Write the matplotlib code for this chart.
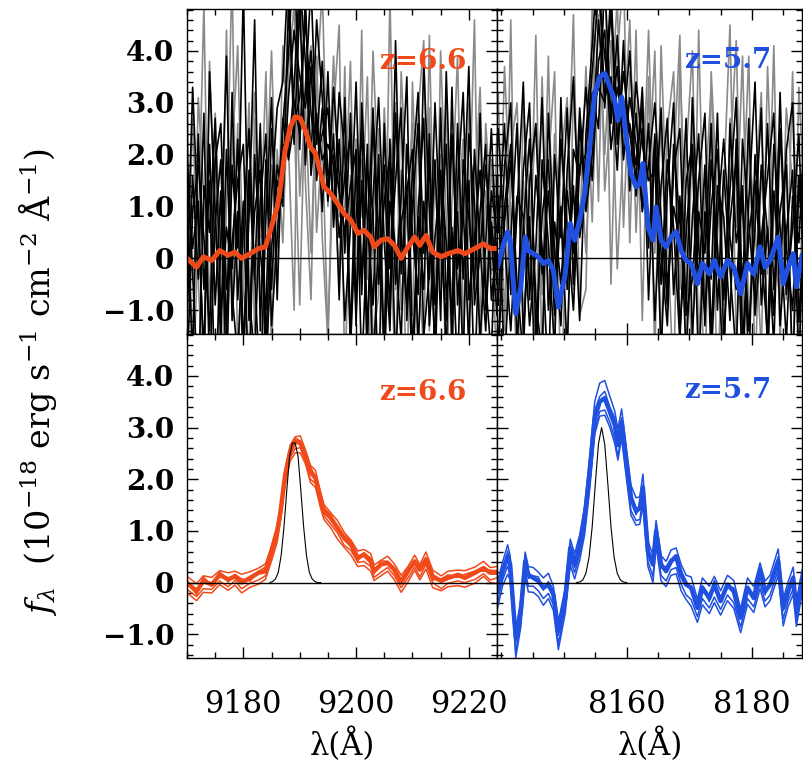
import numpy as np
import matplotlib
matplotlib.use("Agg")
import matplotlib.pyplot as plt
from matplotlib.ticker import MultipleLocator

# ---------------- data ----------------
# stacked z=6.6 spectrum (wavelength in A, flux in 1e-18 erg/s/cm2/A)
z66_wave = [9170.0, 9171.7, 9172.9, 9174.4, 9175.8, 9177.3, 9178.5, 9179.7, 9181.2, 9182.7,
            9183.9, 9184.8, 9186.0, 9186.6, 9187.4, 9188.3, 9189.2, 9190.1, 9191.0, 9191.9,
            9192.8, 9193.7, 9194.3, 9195.5, 9196.7, 9197.9, 9199.1, 9200.3, 9201.4, 9202.6,
            9203.2, 9204.4, 9205.6, 9206.8, 9208.0, 9209.2, 9210.4, 9211.3, 9212.4, 9213.6,
            9215.1, 9216.3, 9218.1, 9219.3, 9221.1, 9222.6, 9223.8, 9225.0]
z66_flux = [0.00, -0.17, 0.03, -0.04, 0.15, 0.06, 0.12, 0.00, 0.09, 0.19,
            0.22, 0.54, 0.99, 1.38, 2.08, 2.53, 2.73, 2.70, 2.47, 2.15,
            2.02, 1.64, 1.38, 1.25, 1.06, 0.86, 0.73, 0.48, 0.54, 0.41,
            0.22, 0.35, 0.38, 0.25, 0.00, 0.22, 0.41, 0.25, 0.44, 0.12,
            0.03, 0.09, 0.15, 0.09, 0.19, 0.28, 0.19, 0.19]
# stacked z=5.7 spectrum
z57_wave = [8139.4, 8140.2, 8141.0, 8141.4, 8142.0, 8142.3, 8143.1, 8143.8, 8144.3, 8145.1,
            8145.9, 8146.7, 8147.5, 8148.3, 8149.1, 8150.2, 8151.0, 8151.7, 8152.5, 8153.3,
            8154.1, 8154.9, 8155.7, 8156.5, 8157.3, 8158.1, 8158.6, 8159.2, 8160.0, 8160.7,
            8161.5, 8162.1, 8162.6, 8163.4, 8164.2, 8164.7, 8165.5, 8166.3, 8167.1, 8167.9,
            8168.7, 8169.5, 8170.3, 8171.3, 8172.1, 8173.2, 8174.0, 8175.0, 8176.1, 8177.1,
            8178.2, 8179.3, 8180.3, 8181.3, 8182.1, 8182.9, 8184.2, 8185.0, 8185.8, 8186.6,
            8187.1, 8188.0]
z57_flux = [-0.17, 0.22, 0.51, 0.35, -0.62, -1.07, -0.55, 0.41, 0.15, 0.09,
            0.03, -0.10, -0.04, -0.23, -0.94, -0.30, 0.67, 0.35, 0.73, 1.25,
            2.15, 3.18, 3.50, 3.57, 3.31, 3.05, 2.66, 3.11, 2.28, 1.64,
            1.38, 1.44, 1.83, 0.60, 0.35, 0.99, 0.35, 0.22, 0.41, 0.51,
            0.15, -0.04, -0.10, -0.49, -0.10, -0.30, -0.04, -0.36, -0.04, -0.17,
            -0.68, -0.10, -0.30, 0.22, -0.17, -0.04, 0.41, -0.49, -0.17, 0.09,
            -0.55, 0.06]

# bootstrap stacks (offsets from the stack), z=6.6
z66_boot1 = [0.12, 0.15, 0.10, 0.14, 0.08, 0.13, 0.10, 0.16, 0.12, 0.09,
             0.14, 0.10, 0.12, 0.08, 0.10, 0.13, 0.09, 0.14, 0.10, 0.12,
             0.15, 0.09, 0.13, 0.10, 0.14, 0.11, 0.09, 0.13, 0.10, 0.15,
             0.12, 0.08, 0.13, 0.11, 0.14, 0.09, 0.12, 0.10, 0.15, 0.12,
             0.10, 0.13, 0.09, 0.14, 0.11, 0.13, 0.10, 0.12]
z66_boot2 = [-0.13, -0.10, -0.15, -0.09, -0.12, -0.14, -0.08, -0.12, -0.10, -0.14,
             -0.09, -0.12, -0.10, -0.13, -0.08, -0.11, -0.14, -0.09, -0.12, -0.15,
             -0.10, -0.13, -0.09, -0.12, -0.10, -0.14, -0.11, -0.09, -0.13, -0.10,
             -0.12, -0.15, -0.09, -0.12, -0.10, -0.13, -0.11, -0.14, -0.09, -0.12,
             -0.15, -0.10, -0.12, -0.09, -0.13, -0.11, -0.14, -0.10]
z66_boot3 = [0.05, -0.06, 0.08, -0.03, 0.06, -0.05, 0.04, 0.07, -0.06, 0.03,
             0.08, -0.04, 0.06, 0.10, 0.05, -0.05, 0.07, 0.04, -0.06, 0.08,
             0.03, -0.05, 0.06, 0.07, -0.04, 0.05, 0.08, -0.06, 0.04, 0.06,
             -0.05, 0.07, 0.03, -0.06, 0.08, 0.04, -0.05, 0.06, 0.05, -0.07,
             0.04, 0.06, -0.05, 0.07, 0.03, -0.06, 0.05, 0.04]
z66_boot4 = [-0.20, -0.18, -0.22, -0.16, -0.19, -0.21, -0.17, -0.20, -0.18, -0.22,
             -0.16, -0.19, -0.21, -0.17, -0.20, -0.18, -0.22, -0.19, -0.17, -0.21,
             -0.18, -0.20, -0.16, -0.19, -0.22, -0.18, -0.20, -0.17, -0.21, -0.19,
             -0.18, -0.22, -0.16, -0.20, -0.19, -0.21, -0.17, -0.20, -0.18, -0.22,
             -0.19, -0.17, -0.21, -0.18, -0.20, -0.16, -0.19, -0.21]
# bootstrap stacks (offsets), z=5.7
z57_boot1 = [0.20, 0.18, 0.22, 0.17, 0.19, 0.15, 0.21, 0.18, 0.16, 0.20,
             0.17, 0.19, 0.22, 0.16, 0.18, 0.20, 0.17, 0.21, 0.19, 0.24,
             0.28, 0.32, 0.36, 0.34, 0.30, 0.27, 0.31, 0.25, 0.29, 0.24,
             0.26, 0.22, 0.27, 0.20, 0.18, 0.21, 0.17, 0.19, 0.22, 0.16,
             0.20, 0.18, 0.21, 0.17, 0.19, 0.23, 0.16, 0.20, 0.18, 0.21,
             0.17, 0.19, 0.22, 0.16, 0.20, 0.18, 0.24, 0.17, 0.19, 0.21,
             0.16, 0.18]
z57_boot2 = [-0.21, -0.17, -0.19, -0.23, -0.16, -0.28, -0.20, -0.18, -0.22, -0.16,
             -0.19, -0.21, -0.17, -0.20, -0.25, -0.18, -0.22, -0.16, -0.19, -0.21,
             -0.24, -0.22, -0.19, -0.23, -0.20, -0.26, -0.22, -0.24, -0.21, -0.25,
             -0.18, -0.22, -0.20, -0.19, -0.23, -0.17, -0.21, -0.19, -0.16, -0.22,
             -0.18, -0.20, -0.23, -0.17, -0.21, -0.19, -0.24, -0.16, -0.20, -0.22,
             -0.18, -0.21, -0.17, -0.23, -0.19, -0.20, -0.16, -0.22, -0.18, -0.21,
             -0.19, -0.17]
z57_boot3 = [0.08, -0.06, 0.10, -0.04, 0.07, -0.09, 0.05, 0.09, -0.07, 0.04,
             0.08, -0.05, 0.06, 0.09, -0.08, 0.05, 0.07, -0.06, 0.08, 0.10,
             0.12, 0.15, 0.10, 0.13, 0.09, 0.14, 0.11, 0.08, 0.12, 0.10,
             -0.07, 0.09, 0.06, -0.05, 0.08, 0.06, -0.07, 0.09, 0.05, -0.06,
             0.08, 0.07, -0.05, 0.09, 0.04, -0.07, 0.08, 0.06, -0.05, 0.07,
             0.09, -0.06, 0.05, 0.08, -0.07, 0.06, 0.09, -0.05, 0.07, 0.04,
             -0.08, 0.06]
z57_boot4 = [-0.32, -0.28, -0.35, -0.30, -0.27, -0.38, -0.31, -0.29, -0.33, -0.28,
             -0.30, -0.34, -0.27, -0.31, -0.36, -0.29, -0.33, -0.28, -0.30, -0.32,
             -0.35, -0.31, -0.28, -0.33, -0.30, -0.36, -0.29, -0.32, -0.30, -0.34,
             -0.27, -0.31, -0.33, -0.29, -0.35, -0.28, -0.32, -0.30, -0.27, -0.34,
             -0.31, -0.29, -0.36, -0.28, -0.33, -0.30, -0.35, -0.27, -0.31, -0.33,
             -0.29, -0.32, -0.28, -0.34, -0.30, -0.31, -0.27, -0.35, -0.29, -0.32,
             -0.30, -0.28]

# instrumental profile (thin black curves)
z66_prof_wave = [9184.7, 9185.2, 9185.7, 9186.2, 9186.7, 9187.2, 9187.7, 9188.2, 9188.7, 9189.2,
                 9189.7, 9190.2, 9190.7, 9191.2, 9191.7, 9192.2, 9192.7, 9193.2, 9193.7]
z66_prof_flux = [0.00, 0.02, 0.07, 0.20, 0.52, 1.07, 1.78, 2.44, 2.70, 2.70,
                 2.44, 1.78, 1.07, 0.52, 0.20, 0.07, 0.02, 0.00, 0.00]
z57_prof_wave = [8152.0, 8152.5, 8153.0, 8153.5, 8154.0, 8154.5, 8155.0, 8155.5, 8156.0, 8156.5,
                 8157.0, 8157.5, 8158.0, 8158.5, 8159.0, 8159.5, 8160.0]
z57_prof_flux = [0.00, 0.01, 0.05, 0.18, 0.49, 1.08, 1.91, 2.68, 3.00, 2.68,
                 1.91, 1.08, 0.49, 0.18, 0.05, 0.01, 0.00]

# individual spectra, z=6.6 (sampled every 1 A from 9170 A)
z66_ind_wave = np.arange(9170.0, 9226.0, 1.0)
z66_ind_black = [
    [0.8, -1.9, 2.4, -0.6, 1.5, -2.8, 0.3, 3.9, -1.2, 0.9, -2.1, 1.7, -0.4, 2.6, -1.6, 1.2, 2.9, 3.4, 5.6, 2.2,
     4.9, 1.8, 3.7, 1.5, 2.9, 1.1, 2.4, -0.8, 3.1, -1.5, 1.9, -0.7, 2.2, -2.4, 0.6, 1.8, -1.1, 4.2, -0.3, 1.4,
     -2.6, 0.9, 2.7, -1.3, 0.4, 1.6, -2.0, 3.3, -0.9, 1.0, -1.7, 2.1, 0.2, -1.4, 1.3, 0.5],
    [-1.2, 1.6, -0.4, 2.8, -2.3, 0.7, 1.9, -1.5, 3.2, -0.8, 1.1, -2.9, 2.0, 0.1, -1.0, 2.5, 0.9, 2.6, 3.9, 6.2,
     2.1, 5.1, 1.6, 2.8, 0.9, 3.6, 0.6, 2.3, 0.1, 2.8, -0.9, 1.5, -1.8, 2.9, 0.4, -1.6, 2.3, -0.5, 1.2, 3.5,
     -1.9, 0.8, -0.6, 2.4, -2.2, 1.7, 0.3, -1.1, 2.6, -0.4, 1.5, -2.5, 0.9, 2.2, -0.8, 0.3],
    [2.1, -0.3, -2.6, 1.4, 0.5, 2.7, -1.1, 0.6, -0.2, 2.3, -1.7, 0.8, 4.6, -1.4, 1.9, -0.6, 1.8, 1.2, 3.1, 4.4,
     3.5, 2.9, 4.0, 2.6, 1.9, 2.2, 1.8, 0.4, 1.6, 2.4, -1.3, 3.0, 0.7, -0.9, 2.0, -2.1, 1.1, 0.2, -1.6, 2.2,
     0.5, -0.7, 3.8, 0.9, -1.8, 2.9, -0.8, 0.6, -2.3, 1.9, 0.8, -0.6, 2.8, -1.0, 0.7, -0.5],
    [-0.5, 3.3, 0.6, -1.8, 2.2, -0.9, 1.3, -2.4, 1.8, 0.2, 5.2, -0.7, -1.9, 1.1, 2.4, -1.3, 0.4, 2.2, 2.0, 3.3,
     5.4, 3.8, 1.9, 4.6, 3.1, 1.2, 3.3, 1.6, -1.2, 0.6, 3.4, -0.4, 1.7, 0.9, -2.7, 2.6, -0.2, 1.5, 2.9, -1.2,
     1.0, 2.6, -1.5, -0.3, 1.9, -1.2, 3.6, 0.1, 0.9, -2.0, 2.4, 1.1, -1.6, 0.3, 2.5, -0.2],
    [1.4, 0.2, 1.1, -2.2, 3.6, 0.9, -1.6, 2.1, -0.7, -1.9, 0.7, 2.5, -0.3, -2.6, 0.8, 3.1, -0.8, 2.7, 1.9, 2.6,
     3.1, 4.6, 2.8, 1.9, 2.4, 2.9, 0.9, 3.2, 2.0, -1.7, 0.8, 2.5, -1.4, 1.2, 3.1, 0.3, -1.4, 2.8, 0.4, -0.9,
     1.7, 3.2, 0.1, 1.8, -0.9, 0.5, 2.2, -1.7, 1.4, 3.2, -0.8, 0.4, 1.7, -0.5, -1.9, 1.6],
    [-2.3, 0.9, 1.8, 0.4, -1.4, 1.9, 2.6, -0.6, 0.3, 1.5, 2.2, -1.2, 0.9, 1.7, -2.1, 0.2, 1.5, 1.0, 4.8, 3.0,
     2.4, 3.2, 5.3, 2.2, 3.8, 1.6, 2.0, 1.3, 0.5, 1.4, 2.1, -2.2, 0.6, 2.7, -0.5, 1.1, 2.0, -2.1, 0.7, 1.3,
     2.1, -1.8, 1.1, -0.4, 3.0, 0.2, -1.2, 2.4, -0.2, 0.8, 3.7, -0.9, 0.1, 1.8, 0.4, -1.1],
]
z66_ind_gray = [
    [3.5, -2.8, 0.5, 4.9, -1.5, 2.1, -3.2, 1.0, 5.5, -2.0, 0.3, 3.0, -1.4, 2.2, -3.0, 1.8, -0.5, 4.1, 2.2, -1.0,
     6.0, 1.5, -0.8, 3.9, 0.4, -1.6, 2.8, 4.5, -2.4, 1.6, -0.8, 4.4, -2.9, 0.7, 2.5, -1.8, 5.1, -0.6, 1.7, -2.8,
     3.4, 0.2, -1.9, 4.3, -0.7, 2.0, -2.6, 1.1, 3.9, -1.2, 0.6, 4.6, -2.2, 1.3, -0.3, 2.4],
    [-1.0, 2.7, -0.4, -2.9, 3.8, 0.6, -1.3, 4.4, -0.9, 2.6, -2.5, 1.4, 3.2, -0.9, 1.1, 4.0, 0.2, 1.6, 5.0, 2.8,
     -0.9, 3.4, 4.1, 0.5, 2.3, -1.5, 1.9, -0.5, 3.7, -2.0, 2.3, 0.8, 3.5, -1.6, -0.7, 2.9, 0.5, -2.3, 3.6, 1.3,
     -1.1, 2.8, 4.2, -1.4, 1.6, -0.5, 3.1, -2.0, 0.8, 2.3, -1.6, 1.2, 3.3, -0.7, 1.9, -0.9],
    [0.6, -1.6, 3.1, 1.2, -0.8, 2.8, 0.1, -1.2, 2.0, 4.1, -0.6, -1.8, 2.7, 0.4, 3.6, -1.9, 2.1, 0.3, 3.6, 4.9,
     1.2, 3.0, 0.1, 3.3, 5.2, 1.0, 3.9, 0.8, 1.0, 3.8, -1.1, 1.9, -0.4, 4.0, 1.3, -2.5, 1.7, 3.0, -1.0, 0.9,
     2.6, -1.7, 0.6, 2.9, -2.1, 4.0, 0.7, -0.8, 2.2, -1.8, 3.0, 0.2, -1.3, 2.6, 0.9, -2.4],
]
# individual spectra, z=5.7 (sampled every 1 A from 8139.5 A)
z57_ind_wave = np.arange(8139.5, 8189.0, 1.0)
z57_ind_black = [
    [1.2, -2.1, 0.4, 2.6, -1.5, 0.8, -2.7, 1.9, 0.3, -1.8, 3.1, -0.6, 1.4, -1.2, 2.4, 4.1, 6.0, 2.9, 4.8, 2.2,
     3.6, 2.4, 1.5, 3.3, -0.8, 2.2, -1.9, 1.3, 3.0, -1.4, 0.5, 2.1, -2.2, 0.9, -0.4, 2.8, -1.6, 0.7, 1.9, -2.5,
     1.1, 3.4, -0.9, 0.6, -1.7, 2.5, 0.2, -1.0, 1.6, -0.5],
    [-0.9, 1.8, 3.0, -1.7, 0.6, 2.3, -0.8, -1.9, 2.8, 0.1, -1.3, 1.7, 3.5, 0.4, 1.3, 3.2, 2.5, 5.4, 2.6, 4.3,
     1.9, 3.1, 2.2, 1.0, 2.6, -1.2, 1.4, 2.7, -0.7, 1.2, -1.9, 0.8, 2.4, -1.3, 1.9, 0.2, -2.3, 2.6, 0.3, 1.1,
     -1.4, 0.6, 2.9, -2.0, 1.3, -0.3, 2.1, 3.0, -1.2, 0.9],
    [2.5, 0.3, -1.4, 0.9, 3.4, -0.8, 1.6, 0.2, -2.4, 2.0, 0.4, 2.9, -0.5, 2.6, 0.9, 2.0, 4.6, 3.1, 3.5, 1.7,
     4.2, 1.3, 2.8, 0.9, 1.8, 3.0, 0.8, -0.9, 1.7, 2.5, -1.1, -0.4, 1.5, 2.8, -1.5, 1.4, 0.8, -1.2, 2.3, -0.6,
     2.7, -1.1, 0.4, 1.6, 2.8, -1.3, 0.5, 1.7, -2.1, 1.5],
    [-1.6, 0.7, 1.9, -0.5, -1.9, 1.5, 2.6, -0.3, 1.3, -1.1, 1.0, -1.8, 2.1, 1.6, 3.3, 1.5, 3.8, 4.4, 2.1, 3.3,
     2.6, 4.0, 1.2, 2.5, 0.4, 0.6, 2.9, -0.6, 1.0, 0.3, 2.7, -1.5, 0.9, 0.1, 2.6, -1.0, 1.7, -0.2, -1.9, 2.3,
     0.7, -0.8, 1.8, 0.5, -1.1, 3.2, -0.7, 0.6, 2.4, -1.3],
    [0.5, 2.6, -0.7, 1.2, 0.8, -1.3, 0.2, 3.1, -1.0, 0.7, -0.5, 1.3, 0.1, 2.9, 1.1, 2.8, 3.3, 3.0, 5.2, 2.4,
     2.9, 1.6, 3.4, 2.2, 1.5, 1.7, -0.5, 1.9, 0.6, -1.6, 1.5, 2.2, -0.5, 1.8, -2.0, 0.8, 2.3, 0.4, -0.6, 1.4,
     -2.2, 2.0, 0.1, -1.5, 2.2, 0.6, -1.6, 1.2, 0.3, 2.8],
    [-2.0, 1.0, 2.2, -1.1, 1.7, 3.0, -1.5, 0.8, 1.9, -0.6, 2.3, 0.6, -1.0, 1.8, 2.0, 3.6, 5.1, 3.9, 2.8, 3.7,
     2.0, 2.6, 1.8, 2.9, 0.2, 2.4, 0.1, -1.3, 2.2, 0.7, -0.9, 3.1, 0.2, -1.1, 1.0, 2.1, -0.8, 1.3, 3.1, -1.6,
     0.4, 1.5, -0.3, 2.6, -0.6, 0.9, 1.8, -2.2, 1.4, 0.0],
]
z57_ind_gray = [
    [3.2, -1.4, 4.6, -2.6, 1.5, -0.4, 4.3, -2.1, 1.8, 3.6, -2.8, 0.9, 4.7, -1.1, -0.6, 4.9, 1.1, 6.0, -0.5, 3.9,
     5.5, 0.3, 4.4, -1.2, 3.5, -2.0, 4.1, 0.5, -2.5, 3.8, 0.4, -1.9, 4.4, -0.8, 2.6, -2.7, 1.4, 4.5, -1.6, 0.8,
     3.9, -2.3, 1.7, -0.3, 4.1, -1.7, 2.2, -2.4, 3.3, 0.7],
    [-0.8, 3.7, 0.9, -2.2, 2.9, 1.2, -1.7, 3.5, -0.9, 2.4, 0.8, -2.1, 3.3, 0.5, 3.7, 0.7, 4.7, 2.0, 4.2, -0.2,
     2.3, 4.6, 0.5, 3.2, 1.5, 4.0, -1.8, 2.5, 3.6, -0.6, 2.0, 4.0, -1.6, 1.2, 3.3, 0.3, -2.0, 2.7, 0.6, 3.9,
     -1.2, 1.1, 3.2, -1.9, 0.8, 2.5, -0.8, 3.6, -1.5, 1.6],
    [1.6, -2.4, 2.1, 3.0, -1.1, 0.5, 2.6, -0.7, 3.9, -1.5, 1.9, 3.1, -0.6, 2.2, 0.1, 2.9, 5.8, 1.3, 2.9, 5.0,
     0.6, 3.6, 2.9, 0.9, 4.4, 0.1, 2.6, -1.0, 1.8, 4.3, -1.8, 2.6, 0.9, -2.6, 3.6, 1.1, -0.9, 1.9, 4.2, -1.2,
     2.2, 0.7, -1.8, 3.7, 0.2, -0.8, 2.9, 1.4, -1.6, 3.5],
]

# axes / labels
ytick_vals = [-1, 0, 1, 2, 3, 4]
ytick_labels = ["\u22121.0", "0", "1.0", "2.0", "3.0", "4.0"]
z66_xticks = [9180, 9200, 9220]
z66_xticklabels = ["9180", "9200", "9220"]
z57_xticks = [8160, 8180]
z57_xticklabels = ["8160", "8180"]
z66_xlim = (9170.0, 9225.0)
z57_xlim = (8139.3, 8188.0)
ylim = (-1.46, 4.81)
z66_label = "z=6.6"
z57_label = "z=5.7"

ORANGE = '#F04A1A'
BLUE = '#1F50E0'

plt.rcParams['font.family'] = ['DejaVu Serif']
plt.rcParams['mathtext.fontset'] = 'dejavuserif'

fig = plt.figure(figsize=(8.04, 7.71), dpi=100)
W, H = 804.0, 771.0

def axpos(x0, x1, y0, y1):
    return [x0 / W, 1 - y1 / H, (x1 - x0) / W, (y1 - y0) / H]

ax_tl = fig.add_axes(axpos(187, 497, 9, 334))
ax_tr = fig.add_axes(axpos(497, 802, 9, 334))
ax_bl = fig.add_axes(axpos(187, 497, 334, 658))
ax_br = fig.add_axes(axpos(497, 802, 334, 658))


def style(ax, xlim, xticks, xlabels, show_x, show_y):
    ax.set_xlim(*xlim)
    ax.set_ylim(*ylim)
    ax.set_xticks(xticks)
    ax.xaxis.set_minor_locator(MultipleLocator(5))
    ax.set_yticks(ytick_vals)
    ax.yaxis.set_minor_locator(MultipleLocator(0.2))
    ax.tick_params(which='both', direction='in', top=True, right=True,
                   width=1.0, color='black')
    ax.tick_params(which='major', length=8)
    ax.tick_params(which='minor', length=4)
    ax.tick_params(axis='x', pad=22, labelsize=22)
    ax.tick_params(axis='y', pad=9, labelsize=20)
    if show_x:
        ax.set_xticklabels(xlabels)
    else:
        ax.set_xticklabels([])
    if show_y:
        ax.set_yticklabels(ytick_labels, fontweight='bold')
    else:
        ax.set_yticklabels([])
    for s in ax.spines.values():
        s.set_linewidth(1.0)
        s.set_zorder(10)


# top panels: individual spectra + stack
for ax, wave, blacks, grays, sw, sf, col in [
        (ax_tl, z66_ind_wave, z66_ind_black, z66_ind_gray, z66_wave, z66_flux, ORANGE),
        (ax_tr, z57_ind_wave, z57_ind_black, z57_ind_gray, z57_wave, z57_flux, BLUE)]:
    for g in grays:
        ax.plot(wave, g, color='#8a8a8a', lw=1.2, zorder=1)
    for b in blacks:
        ax.plot(wave, b, color='black', lw=1.2, zorder=2)
    ax.axhline(0, color='black', lw=1.0, zorder=3)
    ax.plot(sw, sf, color=col, lw=3.6, zorder=5, solid_joinstyle='round',
            solid_capstyle='round')

# bottom panels: bootstrap stacks + instrumental profile
for ax, sw, sf, boots, pw, pf, col in [
        (ax_bl, z66_wave, z66_flux, [z66_boot1, z66_boot2, z66_boot3, z66_boot4],
         z66_prof_wave, z66_prof_flux, ORANGE),
        (ax_br, z57_wave, z57_flux, [z57_boot1, z57_boot2, z57_boot3, z57_boot4],
         z57_prof_wave, z57_prof_flux, BLUE)]:
    sf_arr = np.asarray(sf)
    ax.plot(sw, sf_arr, color=col, lw=3.2, zorder=4, solid_joinstyle='round')
    for bd in boots:
        ax.plot(sw, sf_arr + np.asarray(bd), color=col, lw=1.1, zorder=4)
    ax.axhline(0, color='black', lw=1.0, zorder=5)
    ax.plot(pw, pf, color='black', lw=0.8, zorder=6)

style(ax_tl, z66_xlim, z66_xticks, z66_xticklabels, False, True)
style(ax_tr, z57_xlim, z57_xticks, z57_xticklabels, False, False)
style(ax_bl, z66_xlim, z66_xticks, z66_xticklabels, True, True)
style(ax_br, z57_xlim, z57_xticks, z57_xticklabels, True, False)

# redshift labels
ax_tl.text(0.903, 0.837, z66_label, transform=ax_tl.transAxes, ha='right', va='center',
           color=ORANGE, fontsize=20, fontweight='bold', zorder=20)
ax_bl.text(0.903, 0.818, z66_label, transform=ax_bl.transAxes, ha='right', va='center',
           color=ORANGE, fontsize=20, fontweight='bold', zorder=20)
ax_tr.text(0.90, 0.843, z57_label, transform=ax_tr.transAxes, ha='right', va='center',
           color=BLUE, fontsize=20, fontweight='bold', zorder=20)
ax_br.text(0.90, 0.827, z57_label, transform=ax_br.transAxes, ha='right', va='center',
           color=BLUE, fontsize=20, fontweight='bold', zorder=20)

# axis titles
fig.text(342 / W, 1 - 745 / H, "\u03bb(\u00c5)", ha='center', va='center', fontsize=22)
fig.text(650 / W, 1 - 745 / H, "\u03bb(\u00c5)", ha='center', va='center', fontsize=22)
fig.text(38 / W, 1 - 382 / H,
         r"$f_\lambda$  (10$^{-18}$ erg s$^{-1}$ cm$^{-2}$ $\mathrm{\AA}^{-1}$)",
         rotation=90, ha='center', va='center', fontsize=24)

fig.savefig("out.png", dpi=100)
